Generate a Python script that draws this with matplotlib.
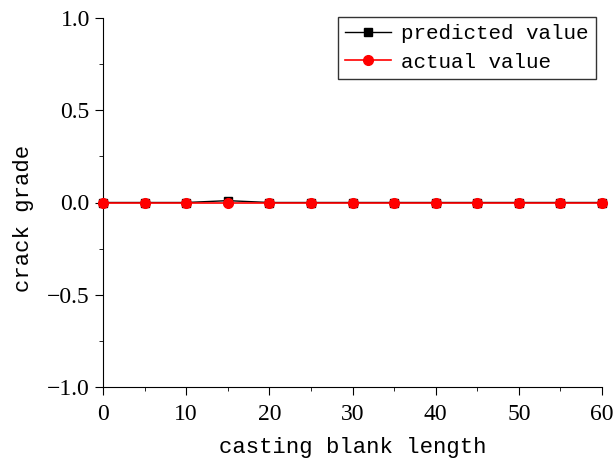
import matplotlib
matplotlib.use("Agg")
import matplotlib.pyplot as plt
from matplotlib.ticker import MultipleLocator

plt.rcParams['font.family'] = ['Liberation Mono', 'DejaVu Sans']

length = [0, 5, 10, 15, 20, 25, 30, 35, 40, 45, 50, 55, 60]
predicted = [0, 0, 0, 0.01, 0, 0, 0, 0, 0, 0, 0, 0, 0]
actual = [0, 0, 0, 0, 0, 0, 0, 0, 0, 0, 0, 0, 0]

fig = plt.figure(figsize=(6.16, 4.68), dpi=100)
ax = fig.add_axes([103/616, 1 - 387/468, (602-103)/616, (387-18)/468])

ax.plot(length, predicted, '-s', color='black', lw=1, ms=6, label='predicted value', clip_on=False, zorder=3)
ax.plot(length, actual, '-o', color='red', lw=1.2, ms=7, label='actual value', clip_on=False, zorder=4)

ax.set_xlim(0, 60)
ax.set_ylim(-1.0, 1.0)
ax.xaxis.set_major_locator(MultipleLocator(10))
ax.xaxis.set_minor_locator(MultipleLocator(5))
ax.yaxis.set_major_locator(MultipleLocator(0.5))
ax.yaxis.set_minor_locator(MultipleLocator(0.25))
ax.yaxis.set_major_formatter(plt.FuncFormatter(lambda v, p: '%.1f' % v if v >= 0 else '\u2212%.1f' % -v))

for s in ['top', 'right']:
    ax.spines[s].set_visible(False)
ax.tick_params(which='both', direction='out')
ax.tick_params(which='major', length=6)
ax.tick_params(which='minor', length=3)
ax.tick_params(axis='x', pad=6)
for lab in ax.get_xticklabels() + ax.get_yticklabels():
    lab.set_fontfamily('Liberation Serif')
    lab.set_fontsize(17)

ax.set_xlabel('casting blank length', fontsize=16, labelpad=9)
ax.set_ylabel('crack grade', fontsize=16)
ax.yaxis.set_label_coords(-0.138, 0.458)

leg = ax.legend(loc='upper right', bbox_to_anchor=(0.988, 1.003), borderaxespad=0,
                fontsize=15, frameon=True, fancybox=False, edgecolor='black',
                borderpad=0.35, handlelength=2.2, handletextpad=0.5, labelspacing=0.45)
leg.get_frame().set_linewidth(1)

fig.savefig('out.png', dpi=100)
